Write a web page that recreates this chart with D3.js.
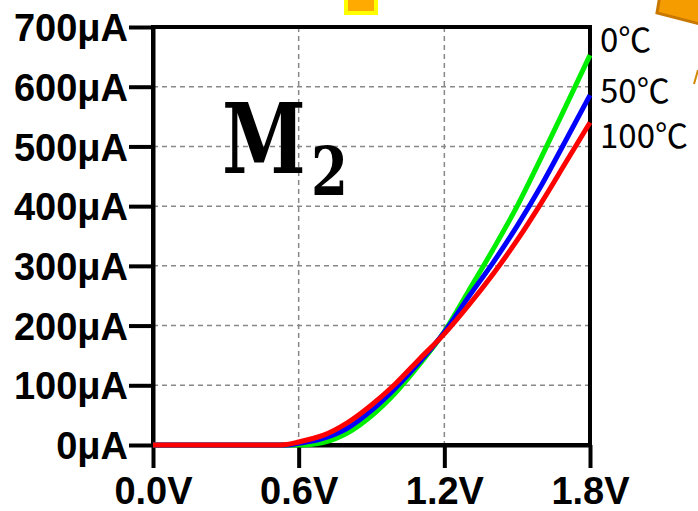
<!DOCTYPE html>
<html>
<head>
<meta charset="utf-8">
<script src="https://cdn.jsdelivr.net/npm/d3@7"></script>
<style>
  body { margin: 0; background: #fff; }
  svg { display: block; }
  .tick text { font-family: "Liberation Sans", Arial, sans-serif; font-weight: bold; font-size: 38px; fill: #000; }
</style>
</head>
<body>
<svg id="chart" width="698" height="511"></svg>
<script>
// drain current vs gate voltage, M2 at three temperatures
const voltage = [0, 0.5, 0.55, 0.6, 0.65, 0.7, 0.8, 0.9, 1.0, 1.1, 1.2, 1.3, 1.4, 1.5, 1.6, 1.7, 1.8];
const i0C   = [0, 0, 0, 0, 1, 4, 20, 49, 88, 136, 190, 258, 327, 400, 482, 567, 653];
const i50C  = [0, 0, 0, 3, 6, 11, 28, 58, 96, 140, 189, 248, 305, 367, 435, 510, 586];
const i100C = [0, 0, 1, 5, 10, 16, 37, 67, 103, 145, 186, 234, 286, 343, 406, 473, 540];
const seriesNames = ["0℃", "50℃", "100℃"];
const seriesColors = ["#00ee00", "#0000ff", "#ff0000"];
const xTicks = [0, 0.6, 1.2, 1.8];
const yTicks = [0, 100, 200, 300, 400, 500, 600, 700];

const svg = d3.select("#chart");
const plotL = 153, plotR = 590, plotT = 27, plotB = 445;

const x = d3.scaleLinear().domain([0, 1.8]).range([plotL, plotR]);
const y = d3.scaleLinear().domain([0, 700]).range([plotB, plotT]);

// grid
svg.append("g").selectAll("line")
  .data(yTicks.slice(1, -1)).enter().append("line")
  .attr("x1", plotL).attr("x2", plotR)
  .attr("y1", d => y(d)).attr("y2", d => y(d))
  .attr("stroke", "#888").attr("stroke-width", 1.5).attr("stroke-dasharray", "5,4");
svg.append("g").selectAll("line")
  .data(xTicks.slice(1, -1)).enter().append("line")
  .attr("y1", plotT).attr("y2", plotB)
  .attr("x1", d => x(d)).attr("x2", d => x(d))
  .attr("stroke", "#888").attr("stroke-width", 1.5).attr("stroke-dasharray", "5,4");

// frame
svg.append("rect")
  .attr("x", plotL).attr("y", plotT)
  .attr("width", plotR - plotL).attr("height", plotB - plotT)
  .attr("fill", "none").attr("stroke", "#000").attr("stroke-width", 4);

const yAxis = svg.append("g")
  .attr("transform", `translate(${plotL},0)`)
  .call(d3.axisLeft(y).tickValues(yTicks).tickFormat(d => d + "μA").tickSize(24).tickSizeOuter(0).tickPadding(1));
const xAxis = svg.append("g")
  .attr("transform", `translate(0,${plotB})`)
  .call(d3.axisBottom(x).tickValues(xTicks).tickFormat(d => d.toFixed(1) + "V").tickSize(23).tickSizeOuter(0).tickPadding(9));
[yAxis, xAxis].forEach(a => {
  a.select(".domain").attr("stroke", "#000").attr("stroke-width", 4);
  a.selectAll(".tick line").attr("stroke", "#000").attr("stroke-width", 4);
});
yAxis.selectAll(".tick text").attr("dy", "0.36em");
xAxis.selectAll(".tick text").attr("dy", "0.7em");

// curves
const line = d3.line().x((d, i) => x(voltage[i])).y(d => y(d)).curve(d3.curveMonotoneX);
[i0C, i50C, i100C].forEach((s, k) => {
  svg.append("path").datum(s)
    .attr("d", line)
    .attr("fill", "none")
    .attr("stroke", seriesColors[k])
    .attr("stroke-width", 5);
});

// series labels
const labelY = [52, 103, 148];
svg.append("g").selectAll("text")
  .data(seriesNames).enter().append("text")
  .attr("x", 600).attr("y", (d, i) => labelY[i])
  .attr("font-family", "'Noto Sans CJK JP', 'Noto Sans', sans-serif")
  .attr("font-size", 33)
  .text(d => d);

// device label, squeezed to the narrow serif of the slide
const m = svg.append("g")
  .attr("transform", "translate(222,173) scale(0.78,1)")
  .append("text")
  .attr("font-family", "'DejaVu Serif', serif")
  .attr("font-weight", "bold");
m.append("tspan").attr("font-size", 97).text("M");
m.append("tspan").attr("font-size", 68).attr("x", 114).attr("dy", 22).text("2");

// slide decorations at the edges
svg.append("rect").attr("x", 346).attr("y", -6).attr("width", 30).attr("height", 19)
  .attr("fill", "#ffaa00").attr("stroke", "#ffff00").attr("stroke-width", 4);
svg.append("polygon")
  .attr("points", "660,-5 657,13 700,24 705,-5")
  .attr("fill", "#f59c00").attr("stroke", "#c87800").attr("stroke-width", 3);
svg.append("line").attr("x1", 698).attr("y1", 70).attr("x2", 694).attr("y2", 84)
  .attr("stroke", "#d08800").attr("stroke-width", 2);
</script>
</body>
</html>
